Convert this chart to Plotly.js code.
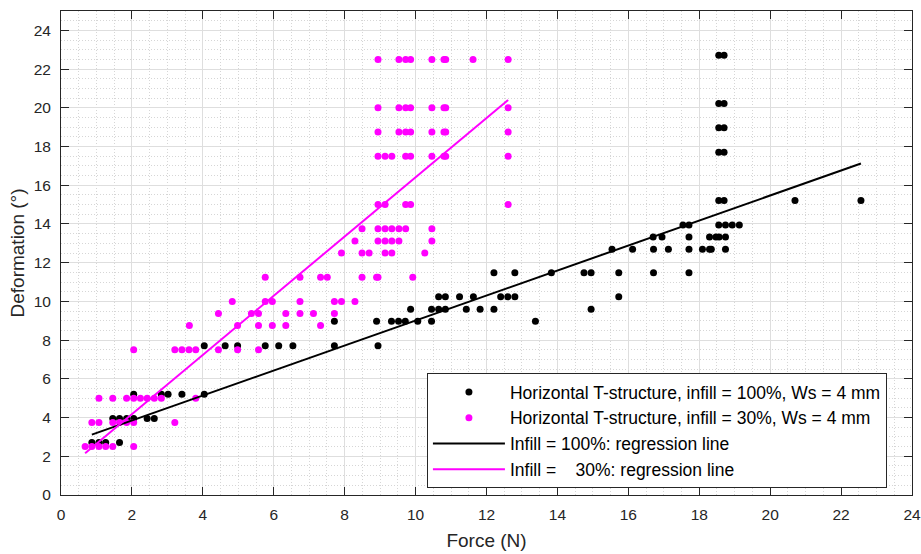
<!DOCTYPE html>
<html>
<head>
<meta charset="utf-8">
<script src="https://cdn.plot.ly/plotly-3.0.1.min.js"></script>
<style>
  html, body { margin: 0; padding: 0; background: #ffffff; }
  #chart { width: 921px; height: 554px; }
</style>
</head>
<body>
<div id="chart"></div>
<script>
// Horizontal T-structure, infill = 100 %, Ws = 4 mm
const force100 = [
  0.87, 1.07, 1.26, 1.65,
  1.46, 1.65, 1.85, 2.05, 2.43, 2.63,
  2.05, 2.83, 3.02, 3.41, 4.04,
  4.04, 4.63, 4.98, 5.76, 6.14, 6.54, 7.71, 8.94,
  7.71, 8.90, 9.32, 9.52, 9.71, 10.06, 10.45, 13.38,
  9.86, 10.45, 10.65, 10.84, 11.43, 11.82, 12.21, 14.95,
  10.65, 10.84, 11.24, 11.63, 12.40, 12.60, 12.80, 15.73,
  12.21, 12.80, 13.83, 14.75, 14.95, 15.73, 16.71, 17.71,
  15.54, 16.12, 16.71, 17.13, 17.71, 18.09, 18.29, 18.34, 18.74,
  16.70, 16.95, 17.71, 18.29, 18.47, 18.56, 18.74,
  17.54, 17.71, 18.55, 18.74, 18.93, 19.13,
  18.55, 18.70, 20.70, 22.56,
  18.55, 18.70,
  18.55, 18.70,
  18.55, 18.70,
  18.55, 18.70
];
const deform100 = [
  2.71, 2.71, 2.71, 2.71,
  3.95, 3.95, 3.95, 3.95, 3.95, 3.95,
  5.21, 5.21, 5.21, 5.21, 5.21,
  7.71, 7.71, 7.71, 7.71, 7.71, 7.71, 7.71, 7.71,
  8.97, 8.97, 8.97, 8.97, 8.97, 8.97, 8.97, 8.97,
  9.60, 9.60, 9.60, 9.60, 9.60, 9.60, 9.60, 9.60,
  10.24, 10.24, 10.24, 10.24, 10.24, 10.24, 10.24, 10.24,
  11.48, 11.48, 11.48, 11.48, 11.48, 11.48, 11.48, 11.48,
  12.69, 12.69, 12.69, 12.69, 12.69, 12.69, 12.69, 12.69, 12.69,
  13.33, 13.33, 13.33, 13.33, 13.33, 13.33, 13.33,
  13.95, 13.95, 13.95, 13.95, 13.95, 13.95,
  15.21, 15.21, 15.21, 15.21,
  17.71, 17.71,
  18.97, 18.97,
  20.22, 20.22,
  22.72, 22.72
];

// Horizontal T-structure, infill = 30 %, Ws = 4 mm
const force30 = [
  0.68, 0.87, 1.07, 1.26, 1.46, 2.05,
  0.87, 1.07, 1.46, 1.65, 1.85, 2.05, 3.21,
  1.07, 1.46, 1.85, 2.05, 2.24, 2.43, 2.63, 2.83, 3.80,
  2.05, 3.21, 3.41, 3.61, 3.80, 4.44, 4.98, 5.57,
  3.62, 4.98, 5.57, 5.96, 6.34, 7.32,
  4.44, 5.37, 5.57, 6.34, 6.74, 7.12, 7.71,
  4.83, 5.76, 5.96, 6.74, 7.71, 7.91, 8.29,
  5.76, 6.74, 7.32, 7.51, 8.49, 8.90, 8.94, 9.92,
  7.91, 8.49, 8.69, 9.14, 9.33, 10.26,
  8.29, 8.94, 9.14, 9.33, 9.53, 10.46,
  8.49, 8.94, 9.14, 9.33, 9.53, 9.72, 10.46,
  8.94, 9.14, 9.72, 9.86, 12.61,
  8.94, 9.14, 9.33, 9.72, 9.86, 10.46, 10.80, 10.85, 12.61,
  8.94, 9.53, 9.72, 9.86, 10.46, 10.80, 10.85, 12.61,
  8.94, 9.53, 9.72, 9.86, 10.46, 10.80, 10.85, 12.61,
  8.94, 9.53, 9.72, 9.86, 10.46, 10.80, 10.85, 11.62, 12.61
];
const deform30 = [
  2.5, 2.5, 2.5, 2.5, 2.5, 2.5,
  3.75, 3.75, 3.75, 3.75, 3.75, 3.75, 3.75,
  5.0, 5.0, 5.0, 5.0, 5.0, 5.0, 5.0, 5.0, 5.0,
  7.5, 7.5, 7.5, 7.5, 7.5, 7.5, 7.5, 7.5,
  8.75, 8.75, 8.75, 8.75, 8.75, 8.75,
  9.375, 9.375, 9.375, 9.375, 9.375, 9.375, 9.375,
  10.0, 10.0, 10.0, 10.0, 10.0, 10.0, 10.0,
  11.25, 11.25, 11.25, 11.25, 11.25, 11.25, 11.25, 11.25,
  12.5, 12.5, 12.5, 12.5, 12.5, 12.5,
  13.125, 13.125, 13.125, 13.125, 13.125, 13.125,
  13.75, 13.75, 13.75, 13.75, 13.75, 13.75, 13.75,
  15.0, 15.0, 15.0, 15.0, 15.0,
  17.5, 17.5, 17.5, 17.5, 17.5, 17.5, 17.5, 17.5, 17.5,
  18.75, 18.75, 18.75, 18.75, 18.75, 18.75, 18.75, 18.75,
  20.0, 20.0, 20.0, 20.0, 20.0, 20.0, 20.0, 20.0,
  22.5, 22.5, 22.5, 22.5, 22.5, 22.5, 22.5, 22.5, 22.5
];

// Regression line end points
const fitX100 = [0.87, 22.56];
const fitY100 = [3.12, 17.12];
const fitX30 = [0.68, 12.61];
const fitY30 = [2.16, 20.40];

const xTicks = [0, 2, 4, 6, 8, 10, 12, 14, 16, 18, 20, 22, 24];
const yTicks = [0, 2, 4, 6, 8, 10, 12, 14, 16, 18, 20, 22, 24];

const seriesNames = [
  'Horizontal T-structure, infill = 100%, Ws = 4 mm',
  'Horizontal T-structure, infill = 30%, Ws = 4 mm',
  'Infill = 100%: regression line',
  'Infill = \u00a0\u00a0 30%: regression line'
];

const FONT = 'Liberation Sans, Arial, Helvetica, sans-serif';
const INK = '#262626';
const MAGENTA = '#ff00ff';

const traces = [
  {
    x: force100, y: deform100, type: 'scatter', mode: 'markers',
    name: seriesNames[0],
    marker: { color: '#000000', size: 7 }
  },
  {
    x: force30, y: deform30, type: 'scatter', mode: 'markers',
    name: seriesNames[1],
    marker: { color: MAGENTA, size: 7 }
  },
  {
    x: fitX100, y: fitY100, type: 'scatter', mode: 'lines',
    name: seriesNames[2],
    line: { color: '#000000', width: 2 }
  },
  {
    x: fitX30, y: fitY30, type: 'scatter', mode: 'lines',
    name: seriesNames[3],
    line: { color: MAGENTA, width: 2 }
  }
];

const axisCommon = {
  showline: true, linecolor: INK, linewidth: 1, mirror: 'ticks',
  ticks: 'inside', ticklen: 8, tickwidth: 1, tickcolor: INK,
  showgrid: true, gridcolor: '#dedede', gridwidth: 1,
  zeroline: false,
  tickfont: { family: FONT, size: 15.5, color: INK },
  minor: {
    dtick: 0.5, showgrid: true, gridcolor: '#d6d6d6',
    griddash: '1px,2px', gridwidth: 1, ticks: ''
  },
  fixedrange: true
};

const layout = {
  width: 921, height: 554,
  margin: { l: 61, r: 9, t: 11, b: 59 },
  paper_bgcolor: '#ffffff', plot_bgcolor: '#ffffff',
  font: { family: FONT, color: INK },
  showlegend: true,
  xaxis: Object.assign({}, axisCommon, {
    range: [0, 24], tickmode: 'array', tickvals: xTicks,
    ticklabelstandoff: 5,
    title: { text: 'Force (N)', font: { family: FONT, size: 19, color: INK }, standoff: 12 }
  }),
  yaxis: Object.assign({}, axisCommon, {
    range: [0, 25], tickmode: 'array', tickvals: yTicks,
    ticklabelstandoff: 6,
    title: { text: 'Deformation (°)', font: { family: FONT, size: 19, color: INK }, standoff: 4 }
  }),
  legend: {
    x: 0.43, y: 0.252, xanchor: 'left', yanchor: 'top',
    bgcolor: '#ffffff', bordercolor: INK, borderwidth: 1,
    font: { family: FONT, size: 17.5, color: '#000000' },
    itemwidth: 72,
    tracegroupgap: 0
  }
};

Plotly.newPlot('chart', traces, layout, { staticPlot: true, displayModeBar: false });
</script>
</body>
</html>
